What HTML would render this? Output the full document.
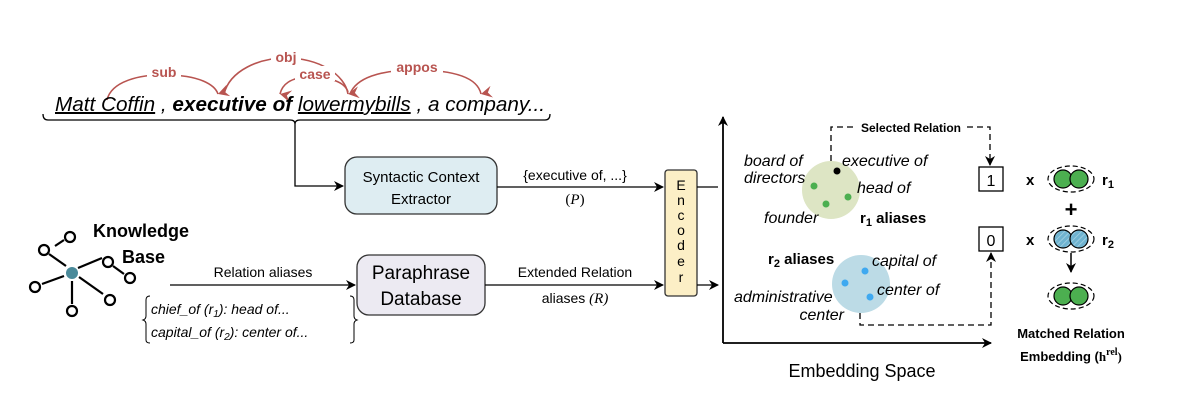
<!DOCTYPE html>
<html><head><meta charset="utf-8"><style>
body{margin:0;background:#fff;width:1180px;height:402px;overflow:hidden}
svg{display:block;font-family:"Liberation Sans",sans-serif}
</style></head><body>
<svg width="1180" height="402" viewBox="0 0 1180 402">
<defs>
<marker id="a" markerWidth="10" markerHeight="10" refX="9" refY="5" orient="auto" markerUnits="userSpaceOnUse"><path d="M0,0 L10,5 L0,10 L3,5 z" fill="#000"/></marker>
<marker id="r" markerWidth="12" markerHeight="12" refX="6" refY="11" orient="auto" markerUnits="userSpaceOnUse"><path d="M0,0 L6,11 L12,0 L6,4 z" fill="#b85450"/></marker>
<pattern id="h" width="4" height="4" patternUnits="userSpaceOnUse" patternTransform="rotate(45)"><rect width="4" height="4" fill="#6fb3d0"/><line x1="0" y1="0" x2="0" y2="4" stroke="#a9d3e4" stroke-width="1.5"/></pattern>
</defs>
<!-- dependency arcs -->
<g fill="none" stroke="#b85450" stroke-width="1.6">
<path d="M107,100 C112,78 150,74 165,75 C200,75 215,85 218,94" marker-end="url(#r)"/>
<path d="M224,94 C230,70 260,58 285,58 C320,58 345,75 348,94" marker-end="url(#r)"/>
<path d="M348,92 C345,82 330,77 310,77 C290,77 282,85 280,94" marker-end="url(#r)"/>
<path d="M350,94 C356,78 380,70 415,70 C460,70 478,80 481,94" marker-end="url(#r)"/>
</g>
<g fill="#b85450" font-weight="bold" font-size="14" text-anchor="middle">
<rect x="147" y="64" width="34" height="15" fill="#fff"/><text x="164" y="77">sub</text>
<rect x="271" y="49" width="30" height="15" fill="#fff"/><text x="286" y="62">obj</text>
<rect x="295" y="66" width="40" height="15" fill="#fff"/><text x="315" y="79">case</text>
<rect x="391" y="59" width="52" height="15" fill="#fff"/><text x="417" y="72">appos</text>
</g>
<text x="55" y="111" font-size="20" font-style="italic" textLength="490" lengthAdjust="spacingAndGlyphs"><tspan text-decoration="underline">Matt Coffin</tspan> , <tspan font-weight="bold">executive of</tspan> <tspan text-decoration="underline">lowermybills</tspan> , a company...</text>
<path d="M43,114 Q43,120 48,120 L290,120 Q295,120 295,124 Q295,120 300,120 L545,120 Q550,120 550,114" fill="none" stroke="#000" stroke-width="1.3"/>
<path d="M295,124 L295,186 L343,186" fill="none" stroke="#000" stroke-width="1.3" marker-end="url(#a)"/>
<rect x="345" y="157" width="152" height="57" rx="12" fill="#deedf2" stroke="#333" stroke-width="1.3"/>
<text x="421" y="182" font-size="15" text-anchor="middle">Syntactic Context</text>
<text x="421" y="204" font-size="15" text-anchor="middle">Extractor</text>
<path d="M497,187 L663,187" stroke="#000" stroke-width="1.3" marker-end="url(#a)"/>
<text x="575" y="180" font-size="14" text-anchor="middle">{executive of, ...}</text>
<text x="575" y="204" font-size="15" text-anchor="middle" font-family="Liberation Serif,serif">(<tspan font-style="italic">P</tspan>)</text>
<rect x="665" y="170" width="32" height="126" rx="3" fill="#fcefc6" stroke="#333" stroke-width="1.3"/>
<g font-size="14" text-anchor="middle"><text x="681" y="190">E</text><text x="681" y="205">n</text><text x="681" y="220">c</text><text x="681" y="235">o</text><text x="681" y="250">d</text><text x="681" y="266">e</text><text x="681" y="282">r</text></g>
<path d="M697,187 L718,187 M697,285 L718,285" stroke="#000" stroke-width="1.3" marker-end="url(#a)"/>
<rect x="357" y="255" width="128" height="60" rx="12" fill="#eceaf2" stroke="#333" stroke-width="1.3"/>
<text x="421" y="279" font-size="19" text-anchor="middle">Paraphrase</text>
<text x="421" y="305" font-size="19" text-anchor="middle">Database</text>
<path d="M170,285 L355,285" stroke="#000" stroke-width="1.3" marker-end="url(#a)"/>
<text x="263" y="277" font-size="14" text-anchor="middle">Relation aliases</text>
<path d="M485,285 L663,285" stroke="#000" stroke-width="1.3" marker-end="url(#a)"/>
<text x="575" y="277" font-size="14" text-anchor="middle">Extended Relation</text>
<text x="575" y="303" font-size="14" text-anchor="middle">aliases <tspan font-style="italic" font-family="Liberation Serif,serif" font-size="15">(R)</tspan></text>
<path d="M150,296 Q146,296 146,300 L146,316 Q146,319 143,320 Q146,321 146,324 L146,340 Q146,343 150,343" fill="none" stroke="#000"/>
<path d="M350,296 Q354,296 354,300 L354,316 Q354,319 357,320 Q354,321 354,324 L354,340 Q354,343 350,343" fill="none" stroke="#000"/>
<g font-size="14" font-style="italic"><text x="151" y="314">chief_of (r<tspan font-size="10" dy="3">1</tspan><tspan dy="-3">): head of...</tspan></text>
<text x="151" y="337">capital_of (r<tspan font-size="10" dy="3">2</tspan><tspan dy="-3">): center of...</tspan></text></g>
<g stroke="#000" stroke-width="2.2" fill="none">
<line x1="66" y1="266" x2="49" y2="254"/><line x1="78" y1="268" x2="102" y2="258"/><line x1="79" y1="277" x2="103" y2="294"/><line x1="72" y1="281" x2="72" y2="304"/><line x1="64" y1="276" x2="42" y2="284"/><line x1="55" y1="246" x2="64" y2="240"/><line x1="113" y1="266" x2="124" y2="274"/>
<circle cx="70" cy="237" r="5"/><circle cx="44" cy="250" r="5"/><circle cx="108" cy="262" r="5"/><circle cx="130" cy="278" r="5"/><circle cx="35" cy="287" r="5"/><circle cx="110" cy="300" r="5"/><circle cx="72" cy="311" r="5"/>
</g>
<circle cx="72" cy="273" r="6" fill="#4a8a9a"/>
<text x="93" y="237" font-size="18" font-weight="bold">Knowledge</text>
<text x="122" y="263" font-size="18" font-weight="bold">Base</text>
<path d="M723,343 L723,117" stroke="#000" stroke-width="1.8" fill="none" marker-end="url(#a)"/>
<path d="M723,343 L991,343" stroke="#000" stroke-width="1.8" fill="none" marker-end="url(#a)"/>
<text x="862" y="377" font-size="18" text-anchor="middle">Embedding Space</text>
<circle cx="831" cy="190" r="29" fill="#dde5c4"/>
<circle cx="837" cy="171" r="3.5" fill="#000"/><circle cx="814" cy="186" r="3.5" fill="#4caf50"/><circle cx="848" cy="197" r="3.5" fill="#4caf50"/><circle cx="826" cy="204" r="3.5" fill="#4caf50"/>
<circle cx="861" cy="284" r="29" fill="#bcdbe6"/>
<circle cx="865" cy="271" r="3.5" fill="#3fa9f0"/><circle cx="845" cy="283" r="3.5" fill="#3fa9f0"/><circle cx="870" cy="297" r="3.5" fill="#3fa9f0"/>
<g font-size="16" font-style="italic">
<text x="744" y="166">board of</text><text x="744" y="183">directors</text>
<text x="842" y="166">executive of</text><text x="857" y="193">head of</text>
<text x="764" y="223">founder</text>
<text x="872" y="266">capital of</text><text x="877" y="295">center of</text>
<text x="734" y="302">administrative</text><text x="844" y="320" text-anchor="end">center</text>
</g>
<text x="860" y="223" font-size="15" font-weight="bold">r<tspan font-size="11" dy="3">1</tspan><tspan dy="-3"> aliases</tspan></text>
<text x="768" y="264" font-size="15" font-weight="bold">r<tspan font-size="11" dy="3">2</tspan><tspan dy="-3"> aliases</tspan></text>
<path d="M831,161 L831,127 L990,127 L990,165" fill="none" stroke="#000" stroke-width="1.3" stroke-dasharray="6,4" marker-end="url(#a)"/>
<rect x="855" y="120" width="112" height="14" fill="#fff"/>
<text x="911" y="132" font-size="12" font-weight="bold" text-anchor="middle">Selected Relation</text>
<path d="M860,313 L860,325 L991,325 L991,253" fill="none" stroke="#000" stroke-width="1.3" stroke-dasharray="6,4" marker-end="url(#a)"/>
<rect x="979" y="167" width="24" height="24" fill="#fff" stroke="#000" stroke-width="1.3"/><text x="991" y="186" font-size="16" text-anchor="middle">1</text>
<rect x="979" y="227" width="24" height="24" fill="#fff" stroke="#000" stroke-width="1.3"/><text x="991" y="246" font-size="16" text-anchor="middle">0</text>
<g font-size="15" font-weight="bold"><text x="1026" y="185">x</text><text x="1026" y="245">x</text>
<text x="1102" y="185">r<tspan font-size="11" dy="3">1</tspan></text><text x="1102" y="245">r<tspan font-size="11" dy="3">2</tspan></text></g>
<text x="1071" y="217" font-size="22" font-weight="bold" text-anchor="middle">+</text>
<path d="M1071,253 L1071,272" stroke="#000" stroke-width="1.5" marker-end="url(#a)"/>
<g stroke="#000" stroke-width="1.2">
<ellipse cx="1071" cy="179" rx="23" ry="13" fill="none" stroke-dasharray="5,3"/>
<circle cx="1063" cy="179" r="9" fill="#4caf50"/><circle cx="1079" cy="179" r="9" fill="#4caf50"/>
<ellipse cx="1071" cy="239" rx="23" ry="13" fill="none" stroke-dasharray="5,3"/>
<circle cx="1063" cy="239" r="9" fill="url(#h)"/><circle cx="1079" cy="239" r="9" fill="url(#h)"/>
<ellipse cx="1071" cy="296" rx="23" ry="13" fill="none" stroke-dasharray="5,3"/>
<circle cx="1063" cy="296" r="9" fill="#4caf50"/><circle cx="1079" cy="296" r="9" fill="#4caf50"/>
</g>
<text x="1071" y="338" font-size="13" font-weight="bold" text-anchor="middle">Matched Relation</text>
<text x="1071" y="361" font-size="13" font-weight="bold" text-anchor="middle">Embedding (<tspan font-family="Liberation Serif,serif">h<tspan font-size="10" dy="-6">rel</tspan><tspan dy="6">)</tspan></tspan></text>
</svg>
</body></html>
